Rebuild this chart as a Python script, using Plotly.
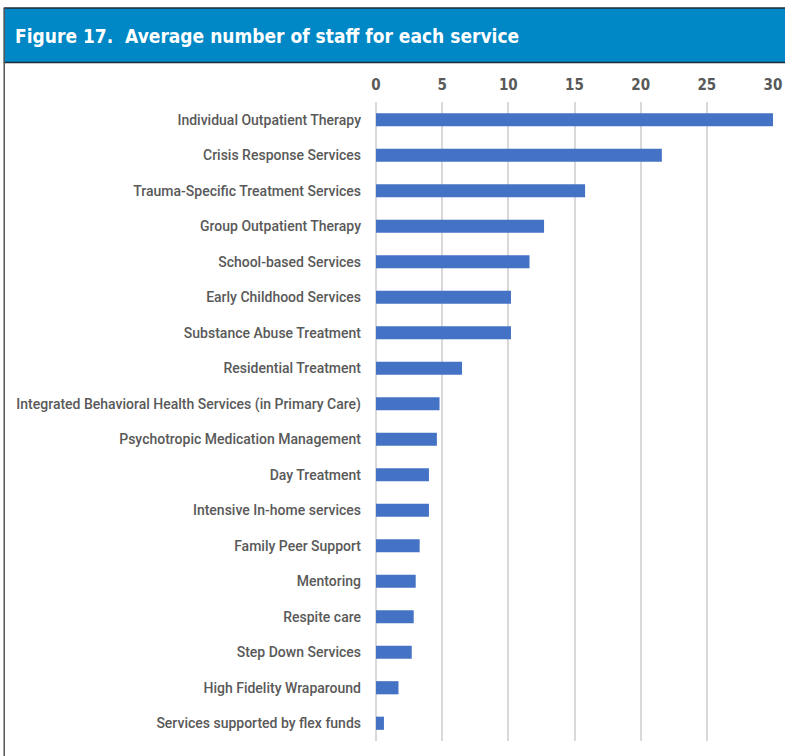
import plotly.graph_objects as go

# Services, listed top to bottom
services = [
    "Individual Outpatient Therapy",
    "Crisis Response Services",
    "Trauma-Specific Treatment Services",
    "Group Outpatient Therapy",
    "School-based Services",
    "Early Childhood Services",
    "Substance Abuse Treatment",
    "Residential Treatment",
    "Integrated Behavioral Health Services (in Primary Care)",
    "Psychotropic Medication Management",
    "Day Treatment",
    "Intensive In-home services",
    "Family Peer Support",
    "Mentoring",
    "Respite care",
    "Step Down Services",
    "High Fidelity Wraparound",
    "Services supported by flex funds",
]

# Average number of staff per service
avg_staff = [30.0, 21.6, 15.8, 12.7, 11.6, 10.2, 10.2, 6.5, 4.8, 4.6,
             4.0, 4.0, 3.3, 3.0, 2.85, 2.7, 1.7, 0.6]

x_ticks = [0, 5, 10, 15, 20, 25, 30]

W, H = 785, 756
L, R, T, B = 376, 12.3, 102, 15
pw = W - L - R
ph = H - T - B


def px_x(p):
    return (p - L) / pw


def px_y(p):
    return (H - B - p) / ph


BLUE_BAR = "#4472C4"
HEADER = "#0088C6"
GRAY_TXT = "#595959"
COND = "Liberation Sans Narrow, DejaVu Sans Condensed, Roboto"

fig = go.Figure(
    go.Bar(
        x=avg_staff,
        y=services,
        orientation="h",
        marker=dict(color=BLUE_BAR, line=dict(width=0)),
        hoverinfo="x+y",
    )
)

fig.update_layout(
    width=W,
    height=H,
    margin=dict(l=L, r=R, t=T, b=B, pad=0, autoexpand=False),
    paper_bgcolor="white",
    plot_bgcolor="white",
    bargap=0.63,
    showlegend=False,
    xaxis=dict(
        side="top",
        range=[0, 30],
        tickvals=x_ticks,
        ticktext=[str(v) for v in x_ticks],
        automargin=False,
        showgrid=True,
        gridcolor="#D9D9D9",
        gridwidth=2,
        zeroline=True,
        zerolinecolor="#D9D9D9",
        zerolinewidth=2,
        showline=False,
        ticks="",
        ticklabelstandoff=8,
        tickfont=dict(family=COND, size=15, color=GRAY_TXT, weight="bold"),
        fixedrange=True,
    ),
    yaxis=dict(
        categoryorder="array",
        categoryarray=services,
        autorange="reversed",
        automargin=False,
        showgrid=False,
        zeroline=False,
        showline=False,
        ticks="",
        ticklabelstandoff=14,
        tickfont=dict(family="Roboto", size=14, color=GRAY_TXT, weight=500),
        fixedrange=True,
    ),
    shapes=[
        # header band
        dict(type="rect", xref="paper", yref="paper",
             x0=px_x(4), x1=px_x(790), y0=px_y(62), y1=px_y(8),
             fillcolor=HEADER, line=dict(width=0), layer="below"),
        # dark rules above and below the header band
        dict(type="line", xref="paper", yref="paper",
             x0=px_x(4), x1=px_x(790), y0=px_y(8), y1=px_y(8),
             line=dict(color="#1E2B38", width=1.5)),
        dict(type="line", xref="paper", yref="paper",
             x0=px_x(4), x1=px_x(790), y0=px_y(62.5), y1=px_y(62.5),
             line=dict(color="#1E2B38", width=1.5)),
        # left frame edge
        dict(type="line", xref="paper", yref="paper",
             x0=px_x(4.5), x1=px_x(4.5), y0=px_y(8), y1=px_y(760),
             line=dict(color="#555555", width=1.5)),
    ],
    annotations=[
        dict(
            text="Figure 17.  Average number of staff for each service",
            xref="paper", yref="paper",
            x=px_x(13), y=px_y(36),
            xanchor="left", yanchor="middle",
            showarrow=False,
            font=dict(family=COND, size=19, color="white", weight="bold"),
        )
    ],
)

fig.write_html("out.html")
